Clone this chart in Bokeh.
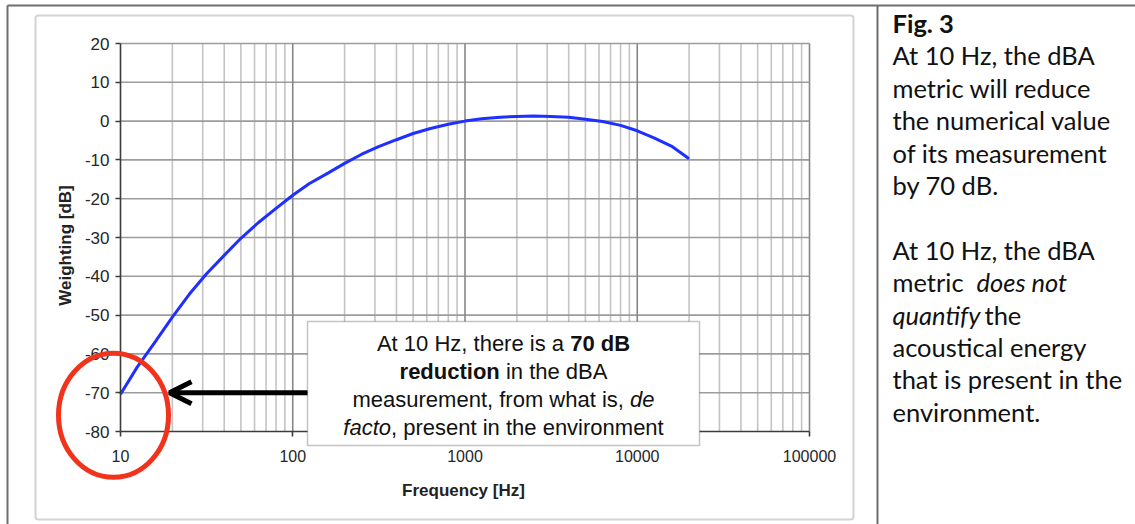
import math
from bokeh.plotting import figure
from bokeh.models import (Range1d, FixedTicker, BoxAnnotation, Label, Arrow, OpenHead)
from bokeh.embed import file_html
from bokeh.resources import INLINE

# ---------------- data ----------------
freq_hz = [10, 12.5, 16, 20, 25, 31.5, 40, 50, 63, 80, 100, 125, 160, 200, 250,
           315, 400, 500, 630, 800, 1000, 1250, 1600, 2000, 2500, 3150, 4000,
           5000, 6300, 8000, 10000, 12500, 16000, 20000]
weighting_db = [-70.4, -63.4, -56.7, -50.5, -44.7, -39.4, -34.6, -30.2, -26.2,
                -22.5, -19.1, -16.1, -13.4, -10.9, -8.6, -6.6, -4.8, -3.2, -1.9,
                -0.8, 0.0, 0.6, 1.0, 1.2, 1.3, 1.2, 1.0, 0.5, -0.1, -1.1, -2.5,
                -4.3, -6.6, -9.7]

x_ticks = [10, 100, 1000, 10000, 100000]
x_tick_labels = ["10", "100", "1000", "10000", "100000"]
y_ticks = [-80, -70, -60, -50, -40, -30, -20, -10, 0, 10, 20]
y_tick_labels = ["-80", "-70", "-60", "-50", "-40", "-30", "-20", "-10", "0", "10", "20"]
x_minor_grid = [m * 10 ** d for d in range(1, 5) for m in range(2, 10)]
x_major_grid = [100, 1000, 10000, 100000]
y_grid = [-70, -60, -50, -40, -30, -20, -10, 0, 10, 20]

box_lines = [
    [("At 10 Hz, there is a ", "normal"), ("70 dB", "bold")],
    [("reduction", "bold"), (" in the dBA", "normal")],
    [("measurement, from what is, ", "normal"), ("de", "italic")],
    [("facto", "italic"), (", present in the environment", "normal")],
]
side_lines = [
    [("Fig. 3", "bold")],
    [("At 10 Hz, the dBA", "normal")],
    [("metric will reduce", "normal")],
    [("the numerical value", "normal")],
    [("of its measurement", "normal")],
    [("by 70 dB.", "normal")],
    [],
    [("At 10 Hz, the dBA", "normal")],
    [("metric", "normal"), ("does not", "italic")],
    [("quantify", "italic"), ("the", "normal")],
    [("acoustical energy", "normal")],
    [("that is present in the", "normal")],
    [("environment.", "normal")],
]

# ---------------- layout (page pixels) ----------------
W, H = 1135, 524
X_MIN, X_MAX = x_ticks[0], x_ticks[-1]
Y_MIN, Y_MAX = y_ticks[0], y_ticks[-1]
PL, PR, PT, PB = 120, 809, 43, 431          # plot area
DEC = (PR - PL) / math.log10(X_MAX / X_MIN)
DBP = (PB - PT) / (Y_MAX - Y_MIN)

def fx(px):
    return 10 ** (math.log10(X_MIN) + (px - PL) / DEC)

def fy(py):
    return Y_MAX - (py - PT) / DBP

def sx(x):
    return PL + DEC * math.log10(x / X_MIN)

def sy(y):
    return PT + (Y_MAX - y) * DBP

# Arial-compatible advance widths (1/1000 em) for the annotation text
ARIAL = {" ": 278, ",": 278, "A": 667, "B": 667, "H": 722, "a": 556, "c": 500,
         "d": 556, "e": 556, "f": 278, "h": 556, "i": 222, "m": 833, "n": 556,
         "o": 556, "p": 556, "r": 333, "s": 500, "t": 278, "u": 556, "v": 500,
         "w": 722, "z": 500, "0": 556, "1": 556, "7": 556}
ARIAL_B = {" ": 278, "7": 556, "0": 556, "d": 611, "B": 722, "r": 389, "e": 556,
           "u": 611, "c": 556, "t": 333, "i": 278, "o": 611, "n": 611}

def text_w(s, style, size):
    tab = ARIAL_B if style == "bold" else ARIAL
    return sum(tab[c] for c in s) * size / 1000.0

p = figure(width=W, height=H, x_axis_type="log",
           x_range=Range1d(fx(0), fx(W)), y_range=Range1d(fy(H), fy(0)),
           min_border=0, toolbar_location=None, output_backend="svg")
p.outline_line_color = None
p.background_fill_color = "white"
p.border_fill_color = "white"
p.xgrid.visible = False
p.ygrid.visible = False

# grid
p.segment(x0=x_minor_grid, y0=Y_MIN, x1=x_minor_grid, y1=Y_MAX,
          line_color="#c4c4c4", line_width=1.6)
p.segment(x0=X_MIN, y0=y_grid, x1=X_MAX, y1=y_grid,
          line_color="#9c9c9c", line_width=1.6)
p.segment(x0=x_major_grid, y0=Y_MIN, x1=x_major_grid, y1=Y_MAX,
          line_color="#878787", line_width=1.6)

# curve
p.line(freq_hz, weighting_db, line_color="#1f2fff", line_width=3)

# axes
font = "Liberation Sans"
xa = p.xaxis[0]
xa.fixed_location = Y_MIN
xa.bounds = (X_MIN, X_MAX)
xa.ticker = FixedTicker(ticks=x_ticks)
xa.major_label_overrides = dict(zip(x_ticks, x_tick_labels))
xa.major_label_standoff = 13
ya = p.yaxis[0]
ya.fixed_location = X_MIN
ya.bounds = (Y_MIN, Y_MAX)
ya.ticker = FixedTicker(ticks=y_ticks)
ya.major_label_overrides = dict(zip(y_ticks, y_tick_labels))
ya.major_label_standoff = 6
for ax, size in ((xa, "16px"), (ya, "17px")):
    ax.axis_line_color = "#3c3c3c"
    ax.axis_line_width = 1.6
    ax.major_tick_line_color = "#3c3c3c"
    ax.major_tick_line_width = 1.6
    ax.major_tick_out = 5
    ax.major_tick_in = 0
    ax.minor_tick_line_color = None
    ax.major_label_text_font = font
    ax.major_label_text_font_size = size
    ax.major_label_text_color = "#262626"

p.add_layout(Label(x=fx(463), y=fy(490), text="Frequency [Hz]", text_font=font,
                   text_font_size="17px", text_font_style="bold", text_color="#222222",
                   text_align="center", text_baseline="middle"))
p.add_layout(Label(x=fx(65), y=fy(245), text="Weighting [dB]", angle=math.pi / 2,
                   text_font=font, text_font_size="17px", text_font_style="bold",
                   text_color="#222222", text_align="center", text_baseline="middle"))

# annotation box
BOX_L, BOX_R, BOX_T, BOX_B = 307, 699, 321, 445
p.add_layout(BoxAnnotation(left=fx(BOX_L), right=fx(BOX_R), top=fy(BOX_T), bottom=fy(BOX_B),
                           fill_color="white", fill_alpha=1.0,
                           line_color="#3a3a3a", line_width=1.5))
BOX_FS = 22
box_cx = (BOX_L + BOX_R) / 2
centers = [343, 371, 399, 427]
for segs, cy in zip(box_lines, centers):
    total = sum(text_w(t, s, BOX_FS) for t, s in segs)
    cur = box_cx - total / 2
    for t, s in segs:
        lead = len(t) - len(t.lstrip(" "))
        p.add_layout(Label(x=fx(cur + lead * 0.278 * BOX_FS), y=fy(cy), text=t.strip(),
                           text_align="left", text_baseline="middle", text_font=font,
                           text_font_size=f"{BOX_FS}px", text_font_style=s,
                           text_color="#111111"))
        cur += text_w(t, s, BOX_FS)

# arrow
p.add_layout(Arrow(end=OpenHead(size=22, line_width=5, line_color="black"),
                   x_start=fx(BOX_L), y_start=weighting_db[0] + 0.4,
                   x_end=fx(169), y_end=weighting_db[0] + 0.4,
                   line_color="black", line_width=5))

# red circle around the 10 Hz point
p.ellipse(x=[fx(sx(freq_hz[0]) - 7)], y=[fy(sy(weighting_db[0]) + 21)],
          width=110, height=124, width_units="screen", height_units="screen",
          fill_color=None, line_color="#f2331c", line_width=5, level="overlay")

# frames
p.add_layout(BoxAnnotation(left=fx(35), right=fx(853), top=fy(15), bottom=fy(519),
                           fill_color=None, line_color="#6e6e6e", line_width=2,
                           border_radius=3))
p.segment(x0=[fx(7), fx(7), fx(877)], y0=[fy(5), fy(5), fy(5)],
          x1=[fx(7), fx(W), fx(877)], y1=[fy(H), fy(5), fy(H)],
          line_color="#6e6e6e", line_width=2)

# side text
side_font = "Lato"
left_x = 892
line0 = 22.5
step = 32.4
side_x = {8: [892, 976], 9: [892, 984]}
for i, segs in enumerate(side_lines):
    cy = line0 + step * i
    xs = side_x.get(i, [left_x])
    for (txt, style), x0 in zip(segs, xs):
        p.add_layout(Label(x=fx(x0), y=fy(cy), text=txt, text_align="left",
                           text_baseline="middle", text_font=side_font,
                           text_font_size="25.5px", text_font_style=style,
                           text_color="#111111"))

open("out.html", "w").write(file_html(p, INLINE))
